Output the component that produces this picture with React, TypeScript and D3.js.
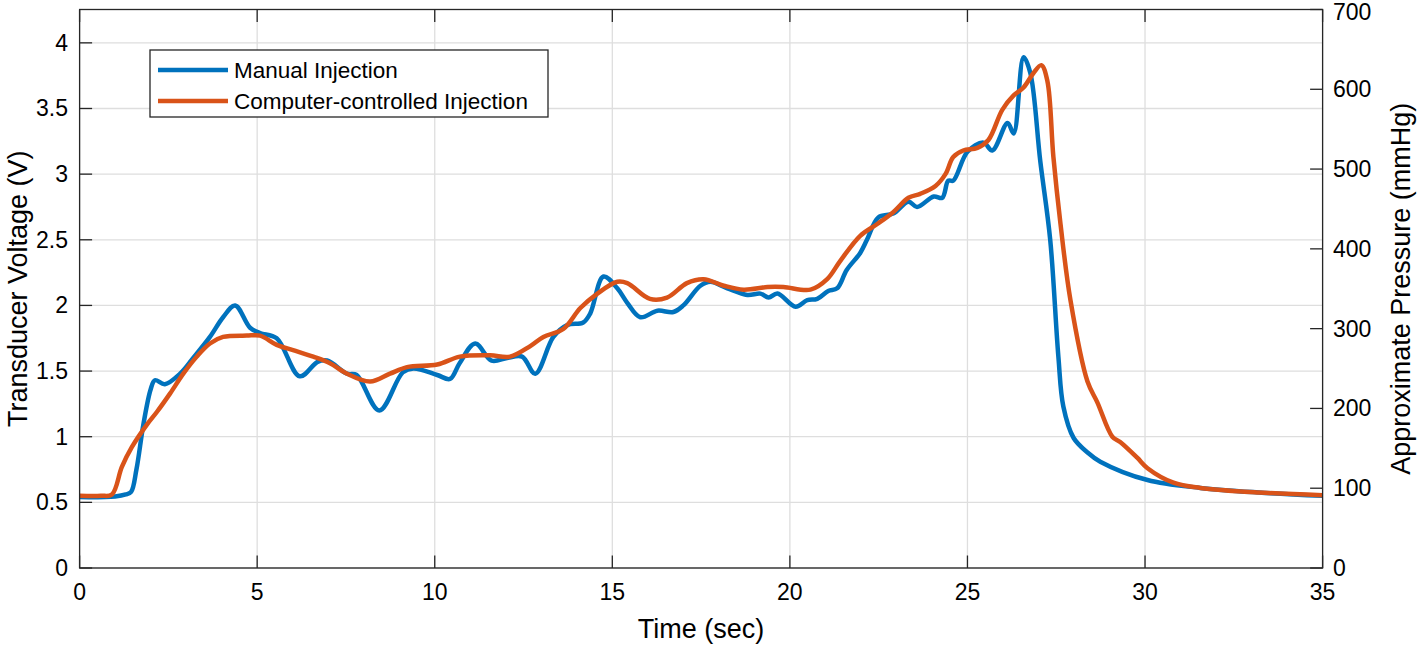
import { useEffect, useRef } from "react";
import * as d3 from "d3";

// time (sec), transducer voltage (V)
const manualT = [0, 1, 1.3, 1.45, 1.6, 1.8, 2.0, 2.12, 2.4, 2.83, 3.2, 3.67, 4.04, 4.38, 4.8, 5.08, 5.55, 6.2, 6.7, 6.97, 7.53, 7.8, 8.44, 9.1, 9.4, 10.07, 10.43, 10.7, 11.14, 11.6, 12.04, 12.46, 12.83, 13.34, 13.73, 14.18, 14.38, 14.75, 15.14, 15.42, 15.79, 16.27, 16.72, 17.0, 17.48, 17.76, 18.24, 18.8, 19.17, 19.4, 19.65, 20.16, 20.49, 20.77, 21.08, 21.33, 21.6, 21.98, 22.17, 22.49, 22.91, 23.34, 23.58, 24.05, 24.29, 24.46, 24.6, 25.0, 25.45, 25.7, 26.13, 26.3, 26.58, 26.77, 27.05, 27.33, 27.56, 27.7, 27.99, 28.38, 28.74, 30.07, 31.56, 33.2, 35];
const manualV = [0.54, 0.545, 0.56, 0.58, 0.75, 1.1, 1.36, 1.43, 1.4, 1.48, 1.6, 1.76, 1.91, 2.0, 1.83, 1.79, 1.75, 1.46, 1.57, 1.58, 1.48, 1.47, 1.2, 1.49, 1.52, 1.47, 1.44, 1.56, 1.71, 1.58, 1.6, 1.61, 1.48, 1.76, 1.85, 1.87, 1.94, 2.22, 2.13, 2.02, 1.91, 1.96, 1.95, 2.0, 2.15, 2.18, 2.13, 2.08, 2.09, 2.06, 2.09, 1.99, 2.04, 2.05, 2.11, 2.13, 2.27, 2.4, 2.5, 2.67, 2.7, 2.79, 2.75, 2.83, 2.82, 2.95, 2.95, 3.17, 3.24, 3.18, 3.39, 3.31, 3.89, 3.77, 3.1, 2.5, 1.61, 1.23, 0.99, 0.88, 0.81, 0.67, 0.61, 0.575, 0.55];

const compT = [0, 0.6, 0.91, 1.19, 1.47, 1.89, 2.18, 2.55, 2.92, 3.3, 3.67, 4.04, 4.71, 5.08, 5.55, 6.01, 6.58, 7.05, 7.53, 8.18, 8.74, 9.22, 10.07, 10.71, 11.56, 12.12, 12.69, 13.06, 13.62, 14.1, 14.58, 15.14, 15.42, 16.06, 16.54, 17.1, 17.57, 18.14, 18.7, 19.37, 19.82, 20.58, 21.05, 21.42, 21.98, 22.46, 22.91, 23.34, 23.67, 24.1, 24.38, 24.6, 24.88, 25.28, 25.59, 25.98, 26.3, 26.58, 26.86, 27.08, 27.25, 27.42, 27.62, 27.9, 28.38, 28.66, 29.08, 29.3, 29.78, 30.07, 30.8, 31.56, 33.2, 35];
const compV = [0.55, 0.55, 0.56, 0.77, 0.92, 1.09, 1.19, 1.33, 1.48, 1.61, 1.71, 1.76, 1.77, 1.77, 1.7, 1.66, 1.61, 1.56, 1.48, 1.42, 1.48, 1.53, 1.55, 1.61, 1.62, 1.61, 1.69, 1.76, 1.82, 1.98, 2.09, 2.18, 2.17, 2.05, 2.06, 2.17, 2.2, 2.15, 2.12, 2.14, 2.14, 2.12, 2.2, 2.34, 2.53, 2.62, 2.71, 2.82, 2.85, 2.91, 3.0, 3.13, 3.18, 3.2, 3.26, 3.49, 3.6, 3.66, 3.77, 3.83, 3.71, 3.13, 2.62, 2.04, 1.42, 1.26, 1.0, 0.96, 0.84, 0.76, 0.65, 0.61, 0.575, 0.555];

const xTicks = [0, 5, 10, 15, 20, 25, 30, 35];
const yTicks = [0, 0.5, 1, 1.5, 2, 2.5, 3, 3.5, 4];
const pTicks = [0, 100, 200, 300, 400, 500, 600, 700];

const seriesNames = ["Manual Injection", "Computer-controlled Injection"];
const seriesColors = ["#0072BD", "#D95319"];

export default function App() {
  const svgRef = useRef<SVGSVGElement>(null);

  useEffect(() => {
    const width = 1418;
    const height = 647;
    const left = 79.6;
    const right = 1322.6;
    const top = 9.5;
    const bottom = 568;
    const font = "'Liberation Sans', Arial, Helvetica, sans-serif";
    const axisColor = "#262626";
    const tickLen = 12.5;

    const svg = d3.select(svgRef.current);
    svg.selectAll("*").remove();
    svg.attr("width", width).attr("height", height);

    const x = d3.scaleLinear().domain([0, 35]).range([left, right]);
    const y = d3.scaleLinear().domain([0, 4.254]).range([bottom, top]);
    const yp = d3.scaleLinear().domain([0, 700]).range([bottom, top]);

    svg.append("rect").attr("width", width).attr("height", height).attr("fill", "#fff");

    // grid
    const grid = svg.append("g").attr("stroke", "#dedede").attr("stroke-width", 1.3);
    xTicks.forEach((t) => {
      grid.append("line").attr("x1", x(t)).attr("x2", x(t)).attr("y1", top).attr("y2", bottom);
    });
    yTicks.forEach((t) => {
      grid.append("line").attr("x1", left).attr("x2", right).attr("y1", y(t)).attr("y2", y(t));
    });

    // lines
    const line = d3
      .line<[number, number]>()
      .x((d) => x(d[0]))
      .y((d) => y(d[1]))
      .curve(d3.curveCatmullRom.alpha(0.5));

    const series = [
      d3.zip(manualT, manualV) as [number, number][],
      d3.zip(compT, compV) as [number, number][],
    ];
    series.forEach((pts, i) => {
      svg
        .append("path")
        .attr("d", line(pts))
        .attr("fill", "none")
        .attr("stroke", seriesColors[i])
        .attr("stroke-width", 4.5)
        .attr("stroke-linejoin", "round");
    });

    // box + ticks
    const ax = svg.append("g").attr("stroke", axisColor).attr("stroke-width", 1.3).attr("fill", "none");
    ax.append("rect").attr("x", left).attr("y", top).attr("width", right - left).attr("height", bottom - top);
    xTicks.forEach((t) => {
      ax.append("line").attr("x1", x(t)).attr("x2", x(t)).attr("y1", bottom).attr("y2", bottom - tickLen);
      ax.append("line").attr("x1", x(t)).attr("x2", x(t)).attr("y1", top).attr("y2", top + tickLen);
    });
    yTicks.forEach((t) => {
      ax.append("line").attr("x1", left).attr("x2", left + tickLen).attr("y1", y(t)).attr("y2", y(t));
    });
    pTicks.forEach((t) => {
      ax.append("line").attr("x1", right).attr("x2", right - tickLen).attr("y1", yp(t)).attr("y2", yp(t));
    });

    const txt = svg.append("g").attr("font-family", font).attr("fill", "#000");
    xTicks.forEach((t) => {
      txt.append("text").attr("x", x(t)).attr("y", 600).attr("text-anchor", "middle").attr("font-size", 23).text(t);
    });
    yTicks.forEach((t) => {
      txt.append("text").attr("x", 68).attr("y", y(t) + 8).attr("text-anchor", "end").attr("font-size", 23).text(t);
    });
    pTicks.forEach((t) => {
      // top label sits a little lower so it stays inside the page
      const ty = Math.max(yp(t) + 8, 20);
      txt.append("text").attr("x", 1333).attr("y", ty).attr("text-anchor", "start").attr("font-size", 23).text(t);
    });

    txt.append("text").attr("x", (left + right) / 2).attr("y", 638).attr("text-anchor", "middle").attr("font-size", 27).text("Time (sec)");
    txt
      .append("text")
      .attr("transform", `translate(27,${(top + bottom) / 2}) rotate(-90)`)
      .attr("text-anchor", "middle")
      .attr("font-size", 27)
      .text("Transducer Voltage (V)");
    txt
      .append("text")
      .attr("transform", `translate(1410,${(top + bottom) / 2}) rotate(-90)`)
      .attr("text-anchor", "middle")
      .attr("font-size", 27)
      .text("Approximate Pressure (mmHg)");

    // legend
    const lg = svg.append("g");
    lg.append("rect")
      .attr("x", 150)
      .attr("y", 50)
      .attr("width", 398)
      .attr("height", 67)
      .attr("fill", "#fff")
      .attr("stroke", axisColor)
      .attr("stroke-width", 1.3);
    seriesNames.forEach((name, i) => {
      const ly = 70 + i * 31;
      lg.append("line")
        .attr("x1", 158)
        .attr("x2", 228)
        .attr("y1", ly)
        .attr("y2", ly)
        .attr("stroke", seriesColors[i])
        .attr("stroke-width", 4.5);
      lg.append("text")
        .attr("x", 234)
        .attr("y", ly + 8)
        .attr("font-family", font)
        .attr("font-size", 22.5)
        .text(name);
    });
  }, []);

  return <svg ref={svgRef} style={{ position: "absolute", left: 0, top: 0, display: "block" }} />;
}
